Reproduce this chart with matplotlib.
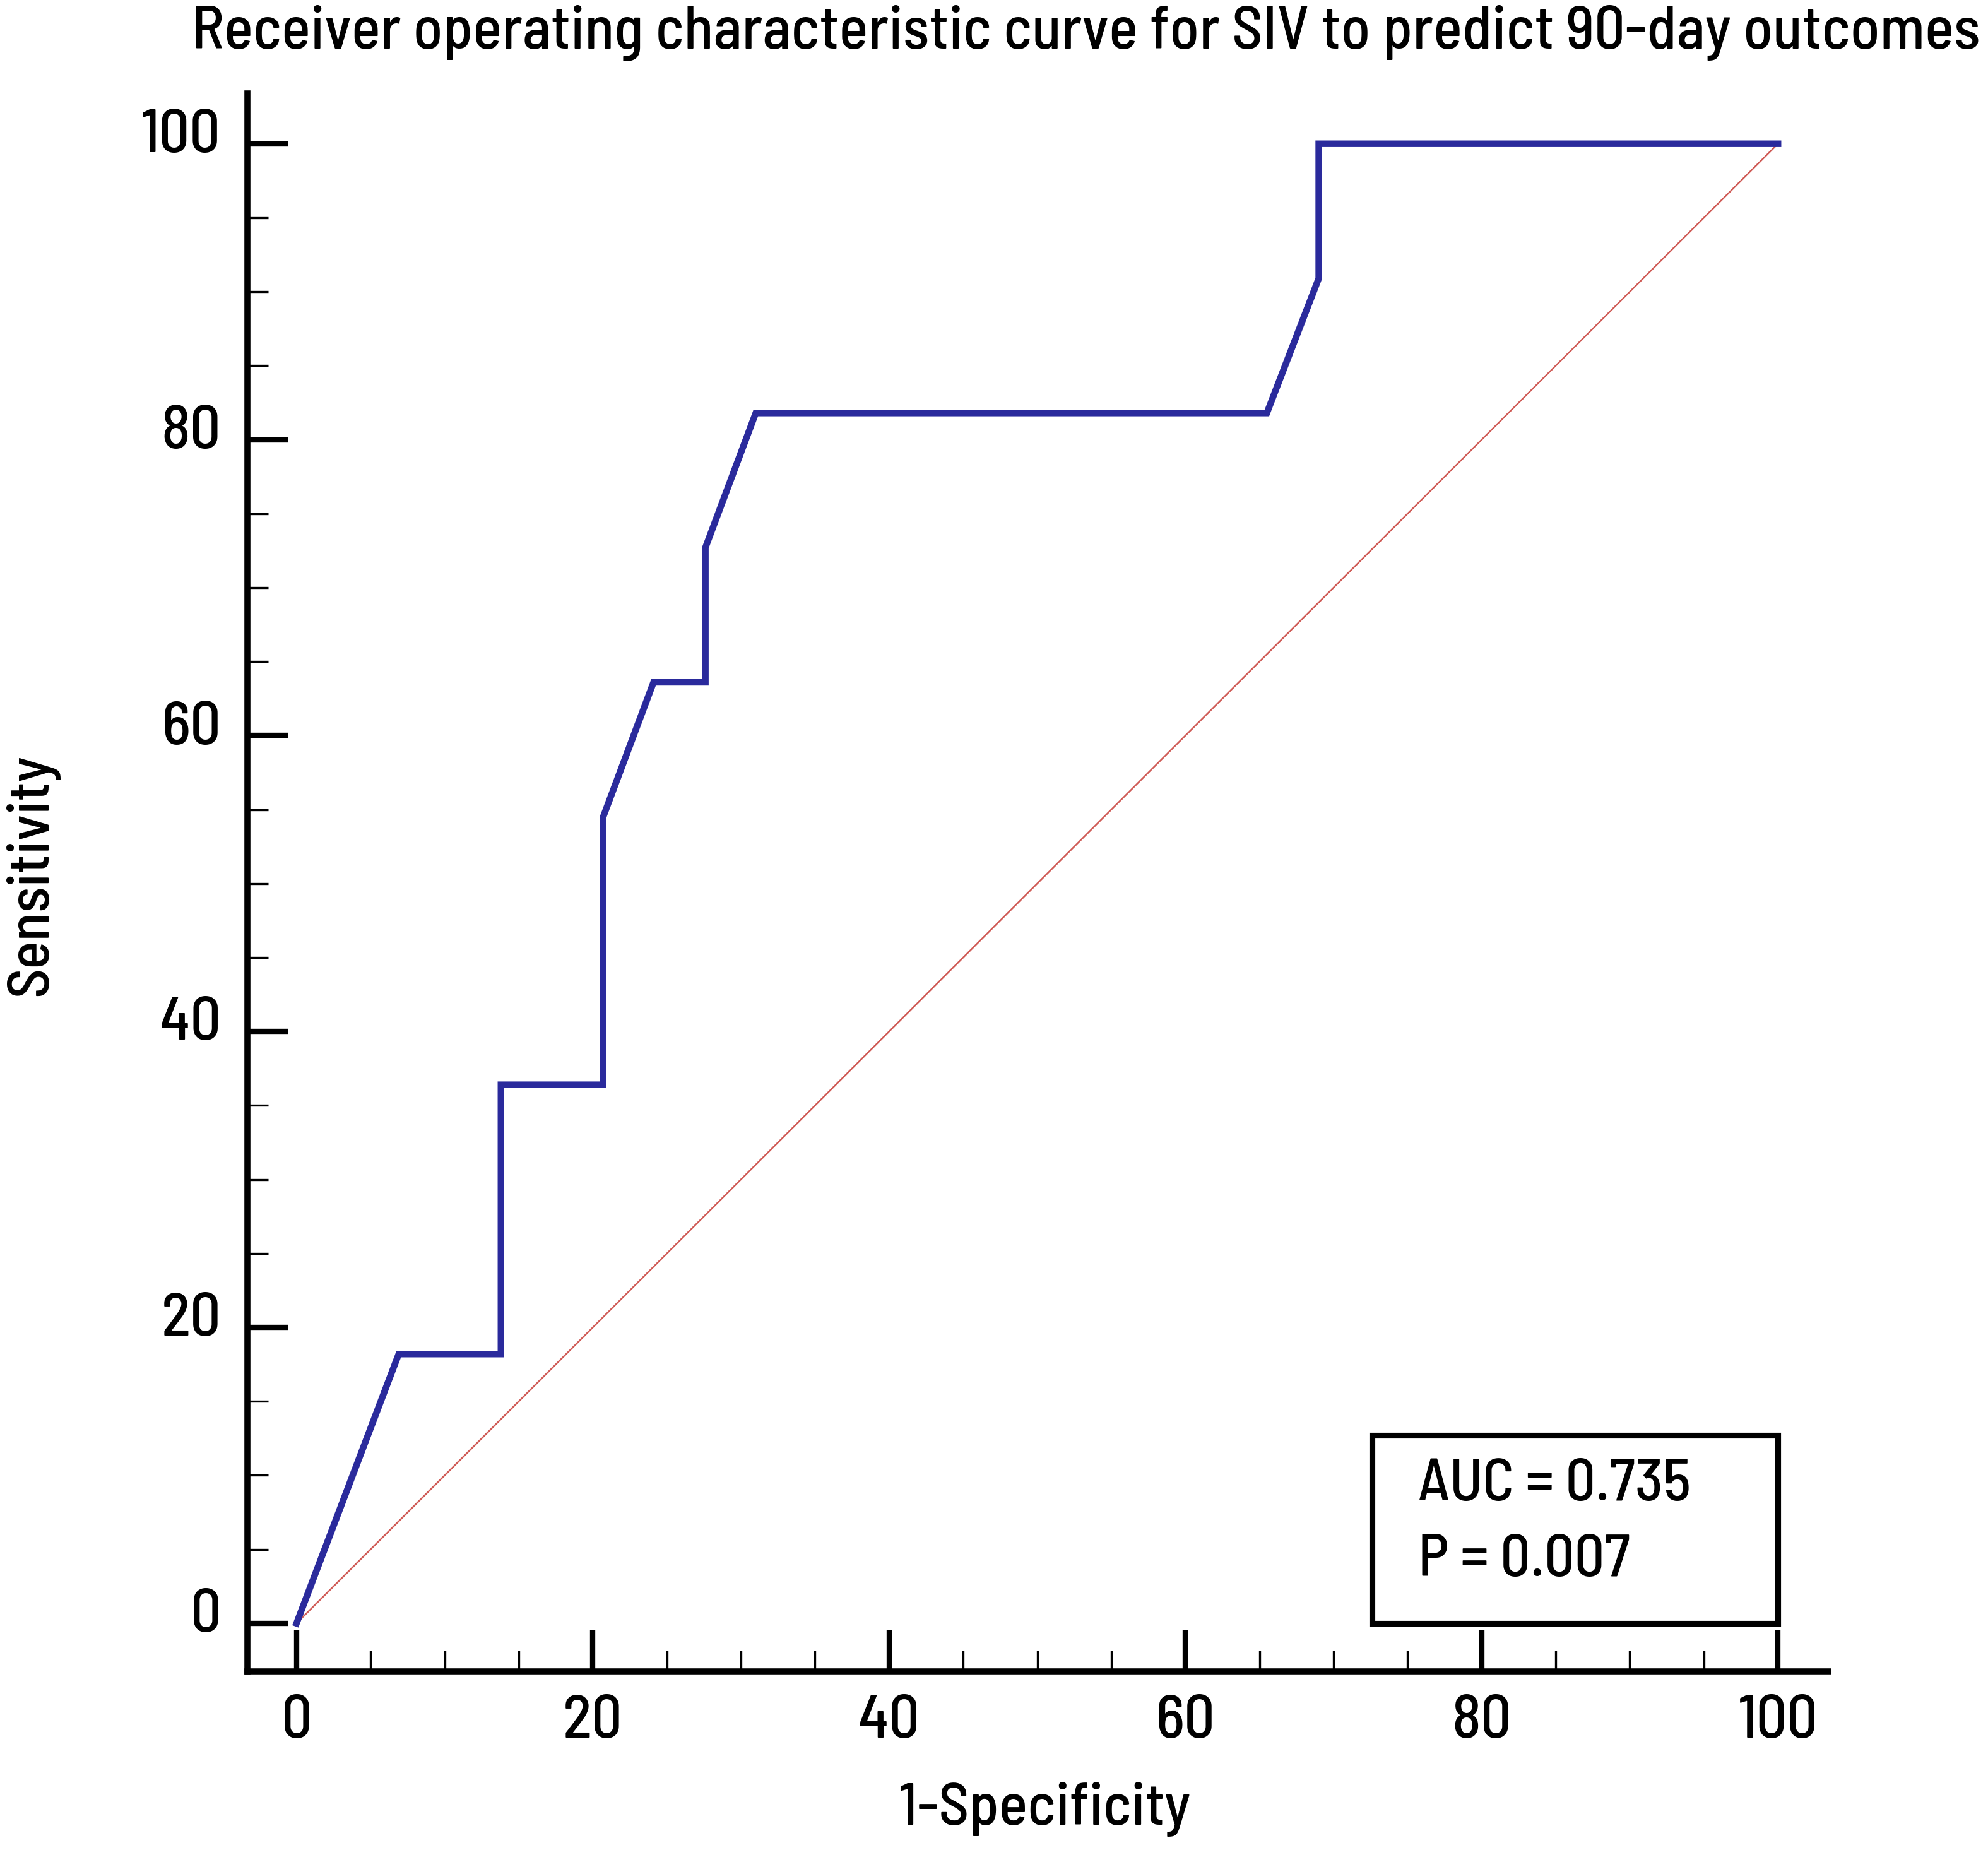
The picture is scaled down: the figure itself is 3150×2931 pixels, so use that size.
import matplotlib
matplotlib.use("Agg")
import matplotlib.pyplot as plt
from matplotlib.patches import Rectangle
from matplotlib.ticker import MultipleLocator
import matplotlib.transforms as mtransforms

# ROC curve points (percent)
fpr = [0, 6.9, 13.8, 13.8, 20.7, 20.7, 24.1, 27.6, 27.6, 31.0, 65.5, 69.0, 69.0, 100]
tpr = [0, 18.2, 18.2, 36.4, 36.4, 54.5, 63.6, 63.6, 72.7, 81.8, 81.8, 90.9, 100, 100]
ref_line = [0, 100]

auc_text = "AUC = 0.735"
p_text = "P = 0.007"
title = "Receiver operating characteristic curve for SIV to predict 90-day outcomes"
xlabel = "1-Specificity"
ylabel = "Sensitivity"

plt.rcParams["font.family"] = ["Barlow Semi Condensed", "DejaVu Sans"]
plt.rcParams["font.weight"] = 500

fig = plt.figure(figsize=(10.5, 9.77), dpi=300)
ax = fig.add_axes([0.1244, 0.0966, 0.9197 - 0.1244, 0.9495 - 0.0966])

ax.plot(ref_line, ref_line, color="#cf5a55", lw=0.6, zorder=2)
ax.plot(fpr, tpr, color="#2a2a9c", lw=2.5, solid_joinstyle="miter", zorder=3)

ax.set_xlim(-3.32, 103.4)
ax.set_ylim(-3.24, 103.4)

for s in ["top", "right"]:
    ax.spines[s].set_visible(False)
for s in ["left", "bottom"]:
    ax.spines[s].set_linewidth(2.3)

ax.xaxis.set_major_locator(MultipleLocator(20))
ax.xaxis.set_minor_locator(MultipleLocator(5))
ax.yaxis.set_major_locator(MultipleLocator(20))
ax.yaxis.set_minor_locator(MultipleLocator(5))
ax.tick_params(which="major", direction="in", length=15.5, width=2.0,
               labelsize=23, pad=10)
ax.tick_params(which="minor", direction="in", length=8, width=0.8)
ax.tick_params(axis="x", which="major", pad=9)

# y tick labels sit a little above their ticks
off = mtransforms.ScaledTranslation(0, 5 / 72, fig.dpi_scale_trans)
for lab in ax.get_yticklabels():
    lab.set_transform(lab.get_transform() + off)

# AUC box
ax.add_patch(Rectangle((72.6, 0), 27.4, 12.7, fill=False, ec="black",
                       lw=2.2, zorder=4))
ax.text(75.7, 8.3, auc_text, fontsize=22.5, va="baseline", ha="left")
ax.text(75.7, 3.2, p_text, fontsize=22.5, va="baseline", ha="left")

fig.text(0.5463, 1 - 77 / 2931, title, fontsize=23, ha="center", va="baseline")
fig.text(1655 / 3150, 1 - 2866 / 2931, xlabel, fontsize=22.8, ha="center", va="center")
fig.text(50 / 3150, 1 - 1386 / 2931, ylabel, fontsize=22.3, ha="center", va="center",
         rotation=90)

fig.savefig("out.png", dpi=300, facecolor="white")
